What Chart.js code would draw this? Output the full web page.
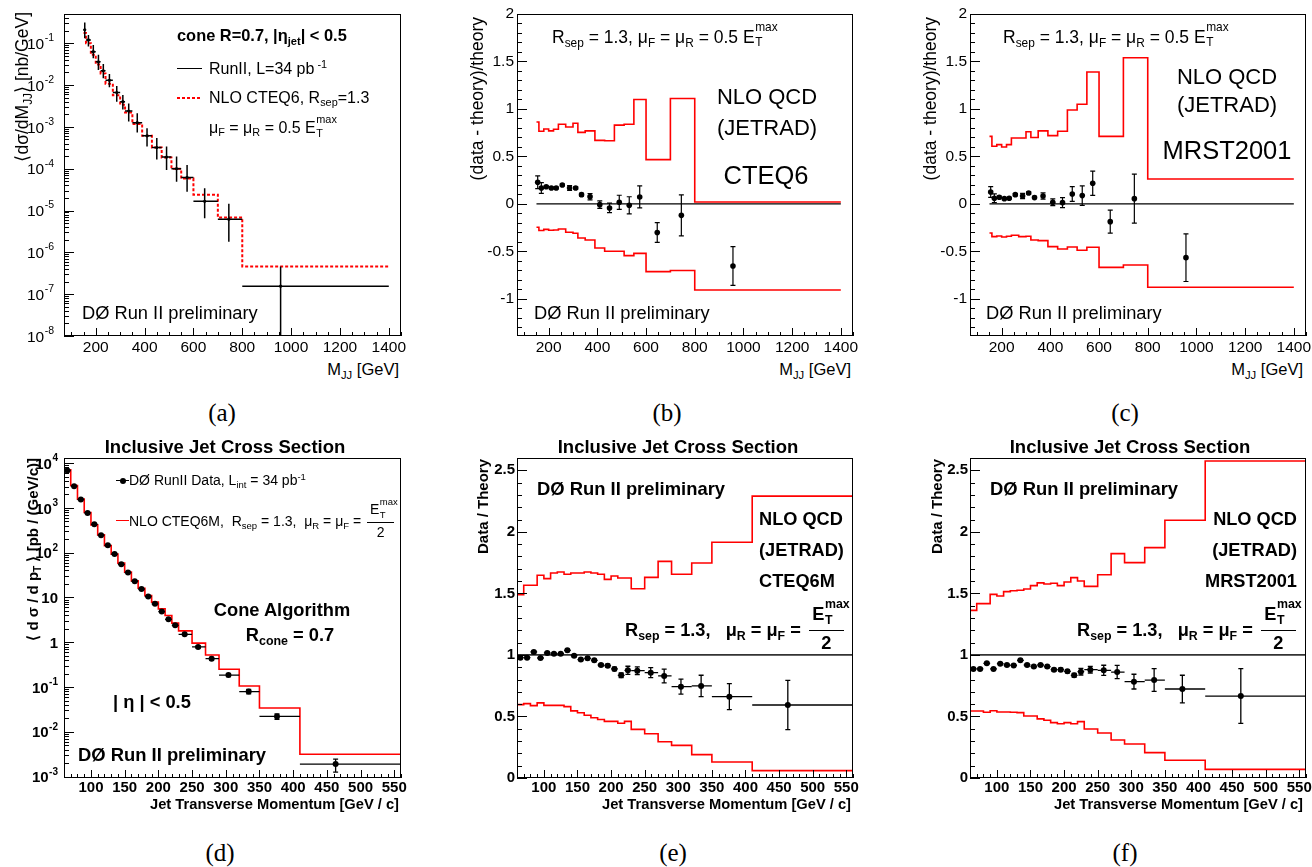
<!DOCTYPE html>
<html>
<head>
<meta charset="utf-8">
<script src="https://cdn.jsdelivr.net/npm/chart.js@4.4.1/dist/chart.umd.min.js"></script>
<style>
body{margin:0;background:#fff;}
#page{position:relative;width:1312px;height:867px;overflow:hidden;background:#fff;color:#000;font-family:"Liberation Sans",Arial,Helvetica,sans-serif;}
canvas{position:absolute;}
.t{position:absolute;white-space:nowrap;line-height:0;}
.b{font-weight:bold;}
.t sub,.t sup,.yt sub,.yt sup{font-size:68%;line-height:0;position:relative;vertical-align:baseline;}
sub{top:0.32em;} sup{top:-0.55em;}
.ss{display:inline-block;position:relative;width:1.35em;height:0;}
.ss .mx{position:absolute;left:0.05em;bottom:0.76em;font-size:68%;line-height:1;}
.ss .lo{position:absolute;left:0.05em;top:-0.48em;font-size:68%;line-height:1;}
.fr{display:inline-block;position:relative;width:1.95em;height:0;margin-left:0.15em;}
.fr .nu{position:absolute;left:0;right:0;bottom:0.71em;line-height:1;text-align:left;padding-left:0.2em;}
.fr .de{position:absolute;left:0;right:0;top:-0.32em;border-top:1.5px solid #000;line-height:1;text-align:center;padding-top:0.17em;}
.yt{position:absolute;width:300px;text-align:right;white-space:nowrap;line-height:0;transform:rotate(-90deg);transform-origin:left top;}
.lab{position:absolute;line-height:0;font-family:"Liberation Serif","DejaVu Serif",serif;font-size:25px;transform:translateX(-50%);}
</style>
</head>
<body>
<div id="page"></div>
<script>
const FONT='"Liberation Sans", Arial, Helvetica, sans-serif';

// (a) dijet mass spectrum
const massEdges=[150,160,180,200,220,240,270,300,320,350,390,430,470,510,550,600,700,800,1400];
const massPoints=[155,170,190,211,231,256,286,311,335,370,410,450,490,531,574,646,745,957];
const dijetData=[0.21,0.12,0.063,0.036,0.022,0.013,0.0066,0.004,0.0024,0.00126,6.1e-4,3.2e-4,1.9e-4,1.0e-4,6.2e-5,1.66e-5,6.2e-6,1.55e-7];
const dijetHi=[0.312,0.158,0.091,0.053,0.032,0.0185,0.0095,0.0058,0.0036,0.00212,9.3e-4,5.4e-4,3.4e-4,1.95e-4,1.23e-4,3.4e-5,1.45e-5,4.6e-7];
const dijetLo=[0.132,0.083,0.044,0.023,0.0145,0.0089,0.004,0.0026,0.00134,7.3e-4,3.4e-4,1.66e-4,9.3e-5,4.9e-5,2.8e-5,6.5e-6,1.8e-6,1e-9];
const dijetNlo=[0.175,0.10,0.053,0.031,0.019,0.0108,0.0057,0.0034,0.0022,0.00117,6.1e-4,3.2e-4,1.85e-4,1.0e-4,5.8e-5,2.4e-5,6.8e-6,4.6e-7];
const massTicks=[200,400,600,800,1000,1200,1400];
const dijetExp=[-8,-7,-6,-5,-4,-3,-2,-1];

// (b) (data-theory)/theory, CTEQ6
const cteqDiff=[0.228,0.168,0.182,0.168,0.168,0.20,0.168,0.168,0.098,0.077,-0.007,-0.042,0.018,-0.014,0.074,-0.30,-0.12,-0.653];
const cteqDiffErr=[0.067,0.056,0.01,0.01,0.01,0.01,0.026,0.012,0.015,0.033,0.04,0.05,0.074,0.09,0.116,0.104,0.216,0.204];
const cteqUp=[0.863,0.765,0.79,0.77,0.786,0.84,0.81,0.85,0.754,0.77,0.67,0.666,0.83,0.84,1.10,0.467,1.11,0.02];
const cteqDown=[-0.245,-0.28,-0.267,-0.277,-0.274,-0.263,-0.298,-0.309,-0.358,-0.379,-0.463,-0.498,-0.498,-0.544,-0.52,-0.712,-0.70,-0.905];
const diffTicks=[-1,-0.5,0,0.5,1,1.5,2];

// (c) (data-theory)/theory, MRST2001
const mrstDiff=[0.126,0.06,0.07,0.056,0.06,0.098,0.084,0.116,0.067,0.084,0.018,0.014,0.105,0.088,0.218,-0.186,0.056,-0.565];
const mrstDiffErr=[0.056,0.046,0.012,0.01,0.01,0.012,0.028,0.012,0.012,0.032,0.035,0.053,0.077,0.102,0.128,0.121,0.258,0.251];
const mrstUp=[0.712,0.607,0.625,0.60,0.625,0.695,0.695,0.76,0.70,0.77,0.72,0.765,0.99,1.05,1.39,0.712,1.54,0.263];
const mrstDown=[-0.305,-0.344,-0.337,-0.347,-0.34,-0.33,-0.344,-0.34,-0.379,-0.386,-0.449,-0.474,-0.453,-0.488,-0.456,-0.667,-0.642,-0.877];

// (d) inclusive jet pT spectrum
const ptEdges=[60,70,80,90,100,110,120,130,140,150,160,170,180,190,200,210,220,230,250,270,290,320,350,410,560];
const ptPoints=[65,75,85,95,105,115,125,135,145,155,165,175,185,195,205,215,225,239,259,279,304,334,376,463];
const jetData=[6840,3050,1540,770,430,245,146,93,55,36,23,15.4,10.5,7.2,4.85,3.25,2.38,1.5,0.785,0.43,0.185,0.079,0.022,1.9e-3];
const jetHi=[6900,3080,1555,778,435,248,148,94,56,36.5,23.4,15.7,10.7,7.4,5.0,3.35,2.47,1.58,0.83,0.46,0.2,0.088,0.025,2.45e-3];
const jetLo=[6780,3020,1525,762,425,242,144,92,54,35.5,22.6,15.1,10.3,7.0,4.7,3.15,2.29,1.42,0.74,0.40,0.17,0.07,0.019,1.26e-3];
const jetNlo=[7080,3160,1570,789,418,250,144,92.7,58.4,36.7,23.5,16.1,11.0,7.85,5.56,3.95,2.67,1.79,0.955,0.52,0.25,0.105,0.034,3.15e-3];
const ptTicks=[100,150,200,250,300,350,400,450,500,550];
const jetExp=[-3,-2,-1,0,1,2,3,4];

// (e) data/theory CTEQ6M
const cteqRatio=[0.978,0.978,1.024,0.975,1.016,1.01,1.01,1.037,0.994,0.962,0.972,0.956,0.918,0.913,0.886,0.834,0.875,0.872,0.856,0.829,0.742,0.748,0.661,0.593];
const cteqRatioErr=[0.008,0.008,0.008,0.008,0.008,0.008,0.008,0.009,0.009,0.009,0.01,0.01,0.011,0.012,0.014,0.019,0.033,0.031,0.041,0.056,0.061,0.087,0.106,0.2];
const cteqMUp=[1.49,1.566,1.566,1.647,1.62,1.666,1.674,1.655,1.666,1.666,1.674,1.666,1.655,1.614,1.641,1.625,1.625,1.538,1.63,1.76,1.655,1.747,1.915,2.29];
const cteqMDown=[0.596,0.604,0.588,0.61,0.59,0.59,0.59,0.58,0.545,0.53,0.51,0.49,0.475,0.46,0.46,0.445,0.46,0.395,0.36,0.295,0.265,0.19,0.13,0.06];
const ratioTicks=[0,0.5,1,1.5,2,2.5];

// (f) data/theory MRST2001
const mrstRatio=[0.886,0.886,0.932,0.886,0.929,0.918,0.915,0.956,0.918,0.905,0.918,0.905,0.88,0.88,0.867,0.834,0.864,0.88,0.875,0.861,0.783,0.796,0.723,0.666];
const mrstRatioErr=[0.008,0.008,0.008,0.008,0.008,0.008,0.008,0.009,0.009,0.009,0.01,0.01,0.011,0.012,0.012,0.015,0.027,0.027,0.041,0.054,0.06,0.092,0.112,0.222];
const mrstRUp=[1.362,1.417,1.417,1.492,1.479,1.514,1.522,1.525,1.536,1.563,1.585,1.576,1.582,1.563,1.593,1.628,1.601,1.557,1.652,1.823,1.75,1.872,2.094,2.576];
const mrstRDown=[0.544,0.544,0.534,0.547,0.536,0.536,0.534,0.531,0.504,0.504,0.48,0.469,0.45,0.441,0.45,0.441,0.458,0.398,0.366,0.309,0.276,0.206,0.144,0.07];

const page=document.getElementById("page");

// helpers for datasets
const pts=(xs,ys)=>xs.map((x,i)=>({x,y:ys[i]}));
const hist=(edges,v)=>v.map((y,i)=>({x:edges[i],y})).concat([{x:edges[v.length],y:v[v.length-1]}]);
function dots(xs,ys,r,err){ return {data:pts(xs,ys),showLine:false,pointRadius:r,pointStyle:"circle",pointBackgroundColor:"#000",pointBorderWidth:0,err}; }
function step(edges,v,color,w,dash){ return {data:hist(edges,v),stepped:true,borderColor:color,borderWidth:w,borderDash:dash||[],pointRadius:0,fill:false}; }
function hline(x0,x1,y,color,w){ return {data:[{x:x0,y},{x:x1,y}],borderColor:color,borderWidth:w,pointRadius:0,fill:false}; }

// ROOT style frame, inward ticks, error bars, log labels
const rootPlugin={id:"root",
  afterDatasetsDraw(chart){
    const c=chart.ctx,a=chart.chartArea,xs=chart.scales.x,ys=chart.scales.y;
    c.save(); c.beginPath(); c.rect(a.left,a.top,a.right-a.left,a.bottom-a.top); c.clip();
    chart.data.datasets.forEach(ds=>{
      const e=ds.err; if(!e) return;
      c.strokeStyle="#000"; c.lineWidth=e.w||1.2;
      ds.data.forEach((p,i)=>{
        const px=xs.getPixelForValue(p.x), py=ys.getPixelForValue(p.y);
        let lo=null,hi=null;
        if(e.sym){ lo=p.y-e.sym[i]; hi=p.y+e.sym[i]; }
        if(e.lo){ lo=e.lo[i]; hi=e.hi[i]; }
        c.beginPath();
        if(lo!==null){
          const y1=ys.getPixelForValue(lo), y2=ys.getPixelForValue(hi);
          c.moveTo(px,y1); c.lineTo(px,y2);
          if(e.cap){ c.moveTo(px-e.cap,y1); c.lineTo(px+e.cap,y1); c.moveTo(px-e.cap,y2); c.lineTo(px+e.cap,y2); }
        }
        if(e.edges){ c.moveTo(xs.getPixelForValue(e.edges[i]),py); c.lineTo(xs.getPixelForValue(e.edges[i+1]),py); }
        c.stroke();
      });
    });
    c.restore();
  },
  afterDraw(chart,args,o){
    const c=chart.ctx,a=chart.chartArea,xs=chart.scales.x,ys=chart.scales.y;
    c.save(); c.strokeStyle="#000"; c.lineWidth=1;
    c.strokeRect(a.left+0.5,a.top+0.5,a.right-a.left-1,a.bottom-a.top-1);
    c.beginPath();
    const xt=(v,l)=>{ const p=Math.round(xs.getPixelForValue(v))+0.5; c.moveTo(p,a.bottom); c.lineTo(p,a.bottom-l); };
    const yt=(v,l)=>{ const p=Math.round(ys.getPixelForValue(v))+0.5; c.moveTo(a.left,p); c.lineTo(a.left+l,p); };
    for(let v=Math.ceil(xs.min/o.xMinor)*o.xMinor; v<=xs.max; v+=o.xMinor) xt(v,4);
    o.xMajor.forEach(v=>xt(v,8));
    if(o.logExp){
      for(let e=o.logExp[0]-1;e<=o.logExp[o.logExp.length-1]+1;e++){
        for(let k=1;k<10;k++){ const v=k*Math.pow(10,e); if(v>=ys.min&&v<=ys.max) yt(v,k===1?10:5); }
      }
    } else {
      for(let v=Math.ceil(ys.min/o.yMinor-1e-6)*o.yMinor; v<=ys.max+1e-9; v+=o.yMinor) yt(v,5);
      o.yMajor.forEach(v=>yt(v,10));
    }
    c.stroke();
    if(o.logExp){
      const fw=o.bold?"bold ":"";
      c.fillStyle="#000"; c.textBaseline="middle"; c.textAlign="right";
      o.logExp.forEach(e=>{
        const py=ys.getPixelForValue(Math.pow(10,e))+1.5, xr=a.left-o.logPad;
        c.font=fw+o.logSize+"px "+FONT;
        if(e===0||e===1){ c.fillText(e===0?"1":"10",xr,py); return; }
        c.font=fw+o.expSize+"px "+FONT;
        const w=c.measureText(String(e)).width;
        c.fillText(String(e),xr,py-o.logSize*0.42);
        c.font=fw+o.logSize+"px "+FONT;
        c.fillText("10",xr-w-0.5,py);
      });
    }
    c.restore();
  }
};

function panel(p){
  const cv=document.createElement("canvas");
  const [bx,by,bw,bh]=p.box, [L,T,R,B]=p.area;
  cv.width=bw; cv.height=bh; cv.style.left=bx+"px"; cv.style.top=by+"px";
  cv.style.width=bw+"px"; cv.style.height=bh+"px";
  page.appendChild(cv);
  const tickFont={family:FONT,size:p.font,weight:p.bold?"bold":"normal"};
  return new Chart(cv,{type:"line",data:{datasets:p.datasets},
    options:{responsive:false,animation:false,events:[],devicePixelRatio:1,
      layout:{padding:{left:0,top:T-by,right:bx+bw-R,bottom:0}},
      plugins:{legend:{display:false},tooltip:{enabled:false},root:p.root},
      scales:{
        x:{type:"linear",min:p.x[0],max:p.x[1],grid:{display:false,drawTicks:false},border:{display:false},
          ticks:{font:tickFont,color:"#000",padding:p.xPad,maxRotation:0,autoSkip:false,callback:v=>String(v)},
          afterBuildTicks:s=>{s.ticks=p.root.xMajor.map(v=>({value:v}));},
          afterFit:s=>{s.height=by+bh-B;}},
        y:{type:p.log?"logarithmic":"linear",min:p.y[0],max:p.y[1],grid:{display:false,drawTicks:false},border:{display:false},
          ticks:{display:!p.log,font:tickFont,color:"#000",padding:p.yPad,autoSkip:false,callback:v=>String(v)},
          afterBuildTicks:s=>{s.ticks=(p.log?p.root.logExp.map(e=>Math.pow(10,e)):p.root.yMajor).map(v=>({value:v}));},
          afterFit:s=>{s.width=L-bx;}}
      }},
    plugins:[rootPlugin]});
}

// text helpers
function T(html,x,y,size,opt){
  opt=opt||{};
  const d=document.createElement("div");
  d.className="t"+(opt.b?" b":"");
  d.style.left=x+"px"; d.style.top=y+"px"; d.style.fontSize=size+"px";
  if(opt.al==="c") d.style.transform="translateX(-50%)";
  if(opt.al==="r") d.style.transform="translateX(-100%)";
  d.innerHTML=html; page.appendChild(d); return d;
}
function YT(html,cx,top,size,b){
  const d=document.createElement("div");
  d.className="yt"+(b?" b":"");
  d.style.left=cx+"px"; d.style.top=(top+300)+"px"; d.style.fontSize=size+"px";
  d.innerHTML=html; page.appendChild(d);
}
function LAB(s,x,y){ const d=document.createElement("div"); d.className="lab"; d.style.left=x+"px"; d.style.top=y+"px"; d.textContent=s; page.appendChild(d); }
function bar(x,y,w,css){ const d=document.createElement("div"); d.style.cssText=`position:absolute;left:${x}px;top:${y}px;width:${w}px;`+css; page.appendChild(d); return d; }

const ET='E<span class="ss"><span class="mx">max</span><span class="lo">T</span></span>';
const FR='<span class="fr"><span class="nu">'+ET+'</span><span class="de">2</span></span>';

// (a)
panel({box:[0,0,425,360],area:[64,14,401,336],x:[70,1450],y:[1e-8,0.5],log:true,font:15.5,xPad:2,yPad:3,
  root:{xMajor:massTicks,xMinor:50,logExp:dijetExp,logPad:10,logSize:15.5,expSize:10.5},
  datasets:[
    dots(massPoints,dijetData,1.6,{lo:dijetLo,hi:dijetHi,edges:massEdges,w:1.5}),
    step(massEdges,dijetNlo,"#ff0000",2,[3,2])
  ]});
// (b)
panel({box:[475,0,400,360],area:[517,14,853,336],x:[70,1450],y:[-1.39,2],font:15.5,xPad:2,yPad:3,
  root:{xMajor:massTicks,xMinor:50,yMajor:diffTicks,yMinor:0.1},
  datasets:[
    dots(massPoints,cteqDiff,2.8,{sym:cteqDiffErr,cap:2.5,w:1.2}),
    hline(150,1400,0,"#000",1.2),
    step(massEdges,cteqUp,"#ff0000",1.6),
    step(massEdges,cteqDown,"#ff0000",1.6)
  ]});
// (c)
panel({box:[925,0,400,360],area:[970,14,1306,336],x:[70,1450],y:[-1.39,2],font:15.5,xPad:2,yPad:3,
  root:{xMajor:massTicks,xMinor:50,yMajor:diffTicks,yMinor:0.1},
  datasets:[
    dots(massPoints,mrstDiff,2.8,{sym:mrstDiffErr,cap:2.5,w:1.2}),
    hline(150,1400,0,"#000",1.2),
    step(massEdges,mrstUp,"#ff0000",1.6),
    step(massEdges,mrstDown,"#ff0000",1.6)
  ]});
// (d)
panel({box:[10,440,415,360],area:[64,458,401,778],x:[60,560],y:[9.3e-4,1.3e4],log:true,bold:true,font:15,xPad:1,yPad:3,
  root:{xMajor:ptTicks,xMinor:10,logExp:jetExp,logPad:6,logSize:15,expSize:10,bold:true},
  datasets:[
    dots(ptPoints,jetData,3,{lo:jetLo,hi:jetHi,edges:ptEdges,cap:2.5,w:1.3}),
    step(ptEdges,jetNlo,"#ff0000",1.6)
  ]});
// (e)
panel({box:[475,440,400,360],area:[517,458,853,778],x:[60,560],y:[0,2.6],bold:true,font:15,xPad:1,yPad:2,
  root:{xMajor:ptTicks,xMinor:10,yMajor:ratioTicks,yMinor:0.1},
  datasets:[
    dots(ptPoints,cteqRatio,3,{sym:cteqRatioErr,edges:ptEdges,cap:2.5,w:1.3}),
    hline(60,560,1,"#333",1.6),
    step(ptEdges,cteqMUp,"#ff0000",1.6),
    step(ptEdges,cteqMDown,"#ff0000",1.6)
  ]});
// (f)
panel({box:[925,440,400,360],area:[970,458,1306,778],x:[60,560],y:[0,2.6],bold:true,font:15,xPad:1,yPad:2,
  root:{xMajor:ptTicks,xMinor:10,yMajor:ratioTicks,yMinor:0.1},
  datasets:[
    dots(ptPoints,mrstRatio,3,{sym:mrstRatioErr,edges:ptEdges,cap:2.5,w:1.3}),
    hline(60,560,1,"#333",1.6),
    step(ptEdges,mrstRUp,"#ff0000",1.6),
    step(ptEdges,mrstRDown,"#ff0000",1.6)
  ]});

// annotations (a)
T('cone R=0.7, |η<sub>jet</sub>| &lt; 0.5',177,35,16.4,{b:true});
bar(177,68,25,"border-top:1.5px solid #000;");
T('RunII, L=34 pb<sup> -1</sup>',209,69,16);
bar(177,97,25,"height:2px;background:repeating-linear-gradient(90deg,#f00 0 3px,transparent 3px 5px);");
T('NLO CTEQ6, R<sub>sep</sub>=1.3',209,98,16);
T('μ<sub>F</sub> = μ<sub>R</sub> = 0.5 '+ET,209,128,16);
T('DØ Run II preliminary',82,313,18.3);
YT('⟨dσ/dM<sub>JJ</sub>⟩ [nb/GeV]',22,12,17.5);
T('M<sub>JJ</sub> [GeV]',399,369,16.5,{al:"r"});
LAB("(a)",222,413);

// (b)
T('R<sub>sep</sub> = 1.3, μ<sub>F</sub> = μ<sub>R</sub> = 0.5 '+ET,552,37,17.5);
T('NLO QCD',767,97,22,{al:"c"});
T('(JETRAD)',767,128,22,{al:"c"});
T('CTEQ6',766,175,25.5,{al:"c"});
T('DØ Run II preliminary',534,313,18.3);
YT('(data - theory)/theory',477,17,17.5);
T('M<sub>JJ</sub> [GeV]',851,369,16.5,{al:"r"});
LAB("(b)",667,413);

// (c)
T('R<sub>sep</sub> = 1.3, μ<sub>F</sub> = μ<sub>R</sub> = 0.5 '+ET,1003,37,17.5);
T('NLO QCD',1227,77,22,{al:"c"});
T('(JETRAD)',1227,105,22,{al:"c"});
T('MRST2001',1227,150,25.5,{al:"c"});
T('DØ Run II preliminary',986,313,18.3);
YT('(data - theory)/theory',930,17,17.5);
T('M<sub>JJ</sub> [GeV]',1303,369,16.5,{al:"r"});
LAB("(c)",1125,413);

// (d)
T('Inclusive Jet Cross Section',225,447,18.5,{b:true,al:"c"});
bar(116,480,13,"border-top:1.5px solid #000;");
bar(120,477.5,6,"height:6px;border-radius:50%;background:#000;");
T('DØ RunII Data, L<sub>int</sub> = 34 pb<sup>-1</sup>',129,480,14);
bar(116,520,13,"border-top:1.5px solid #f00;");
T('NLO CTEQ6M,&nbsp; R<sub>sep</sub> = 1.3,&nbsp; μ<sub>R</sub> = μ<sub>F</sub> = '+FR,129,521,14);
T('Cone Algorithm',282,610,18.3,{b:true,al:"c"});
T('R<sub>cone</sub> = 0.7',290,635,18.3,{b:true,al:"c"});
T('| η | &lt; 0.5',113,702,18.3,{b:true});
T('DØ Run II preliminary',78,755,18.4,{b:true});
YT('⟨ d σ / d p<sub>T</sub> ⟩ [pb / (GeV/c)]',33,458,15,true);
T('Jet Transverse Momentum [GeV / c]',399,804,14.7,{b:true,al:"r"});
LAB("(d)",220,853);

// (e)
T('Inclusive Jet Cross Section',678,447,18.5,{b:true,al:"c"});
T('DØ Run II preliminary',537,489,18.4,{b:true});
T('NLO QCD',759,519,18.2,{b:true});
T('(JETRAD)',759,550,18.2,{b:true});
T('CTEQ6M',759,581,18.2,{b:true});
T('R<sub>sep</sub> = 1.3,&nbsp;&nbsp; μ<sub>R</sub> = μ<sub>F</sub> = '+FR,625,630,18.2,{b:true});
YT('Data / Theory',483,459,15,true);
T('Jet Transverse Momentum [GeV / c]',851,804,14.7,{b:true,al:"r"});
LAB("(e)",673,853);

// (f)
T('Inclusive Jet Cross Section',1130,447,18.5,{b:true,al:"c"});
T('DØ Run II preliminary',990,489,18.4,{b:true});
T('NLO QCD',1297,519,18.2,{b:true,al:"r"});
T('(JETRAD)',1297,550,18.2,{b:true,al:"r"});
T('MRST2001',1297,581,18.2,{b:true,al:"r"});
T('R<sub>sep</sub> = 1.3,&nbsp;&nbsp; μ<sub>R</sub> = μ<sub>F</sub> = '+FR,1077,630,18.2,{b:true});
YT('Data / Theory',937,459,15,true);
T('Jet Transverse Momentum [GeV / c]',1303,804,14.7,{b:true,al:"r"});
LAB("(f)",1125,853);
</script>
</body>
</html>
